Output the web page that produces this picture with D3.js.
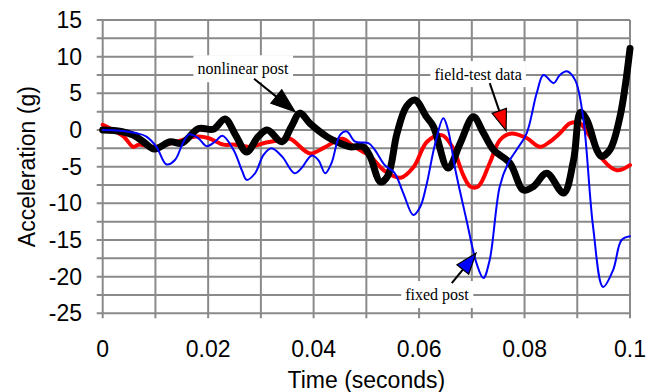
<!DOCTYPE html>
<html>
<head>
<meta charset="utf-8">
<script src="https://cdn.jsdelivr.net/npm/d3@7/dist/d3.min.js"></script>
<style>
  html, body { margin: 0; padding: 0; background: #fff; }
  svg { display: block; }
  .tick-label, .axis-title { font-family: "Liberation Sans", Arial, sans-serif; font-size: 23px; fill: #000; }
  .note { font-family: "Liberation Serif", "Times New Roman", serif; font-size: 16px; fill: #000; }
</style>
</head>
<body>
<div id="chart"></div>
<script>
// time in seconds, acceleration in g
const fieldTestT = [0, 0.002, 0.004, 0.0058, 0.0068, 0.0085, 0.0102, 0.014, 0.0178, 0.020, 0.0229, 0.025, 0.028, 0.0305, 0.0336, 0.0355, 0.0393, 0.042, 0.0455, 0.0475, 0.0507, 0.0535, 0.0565, 0.059, 0.0615, 0.0643, 0.0663, 0.0684, 0.0697, 0.0712, 0.0734, 0.0753, 0.0773, 0.0804, 0.0829, 0.0848, 0.0867, 0.0886, 0.0905, 0.0924, 0.0949, 0.0975, 0.1];
const fieldTestG = [0.7, 0, -0.9, -2.3, -2.0, -2.2, -2.3, -1.6, -0.9, -1.1, -2.0, -2.0, -2.3, -1.8, -1.4, -1.2, -3.2, -2.4, -1.2, -2.2, -3.6, -5.6, -6.5, -5.0, -1.6, -0.7, -2.3, -6.2, -7.7, -7.7, -4.5, -1.4, -0.5, -1.1, -2.3, -1.6, -0.45, 0.9, 0.9, -0.9, -4.1, -5.5, -4.8];

const nonlinearT = [0, 0.0035, 0.0058, 0.0077, 0.0098, 0.0128, 0.015, 0.0182, 0.021, 0.0232, 0.0252, 0.0273, 0.0295, 0.0312, 0.034, 0.0358, 0.0374, 0.0393, 0.0425, 0.045, 0.0469, 0.0494, 0.0507, 0.0527, 0.0541, 0.0558, 0.0576, 0.0592, 0.0614, 0.0627, 0.0655, 0.0678, 0.0703, 0.0722, 0.0741, 0.0772, 0.0798, 0.0817, 0.0842, 0.0874, 0.0893, 0.0906, 0.0918, 0.0937, 0.0946, 0.0962, 0.0981, 0.1];
const nonlinearG = [0, -0.2, -0.7, -1.6, -2.6, -1.6, -1.8, 0.2, 0.1, 1.5, -0.7, -3.0, -0.9, 0, -1.6, 0.5, 2.3, 0.9, -0.9, -1.8, -2.3, -2.3, -3.6, -7.1, -6.2, -0.5, 3.2, 4.1, 1.8, 0.5, -5.2, -1.8, 1.8, -0.4, -2.7, -4.5, -8.2, -7.7, -5.9, -8.6, -4.1, 2.4, 1.4, -2.7, -3.6, -2.7, 1.8, 11.1];

const fixedT = [0, 0.0033, 0.0065, 0.0083, 0.0102, 0.0121, 0.0137, 0.0152, 0.0164, 0.0181, 0.0197, 0.0213, 0.0227, 0.0248, 0.0264, 0.0273, 0.0289, 0.0305, 0.032, 0.034, 0.0364, 0.0377, 0.0396, 0.0409, 0.0422, 0.0434, 0.045, 0.0463, 0.0479, 0.0504, 0.0516, 0.0535, 0.0553, 0.057, 0.0589, 0.0602, 0.0614, 0.063, 0.0646, 0.0655, 0.0669, 0.069, 0.0709, 0.0722, 0.0734, 0.0753, 0.0769, 0.0785, 0.0804, 0.0823, 0.0836, 0.0855, 0.0867, 0.088, 0.0896, 0.0911, 0.093, 0.0949, 0.0968, 0.0984, 0.1];
const fixedG = [0, -0.1, -0.45, -0.9, -2.3, -4.7, -4.1, -1.8, -0.6, -1.1, -2.2, -1.6, -0.8, -2.7, -5.5, -6.8, -5.9, -3.4, -2.5, -3.6, -5.9, -5.2, -3.5, -4.1, -5.9, -4.5, -0.7, -0.2, -1.6, -1.8, -2.7, -4.8, -5.8, -8.6, -11.6, -10.5, -7.5, -2, 1.6, 0, -5.5, -12.3, -18.2, -20.2, -17.7, -7.7, -4.5, -2.7, -0.45, 5, 7.5, 6.4, 7.5, 8, 6.8, 1.8, -13.2, -21.4, -19.1, -15, -14.5];

const xTicks = [0, 0.02, 0.04, 0.06, 0.08, 0.1];
const xTickLabels = ['0', '0.02', '0.04', '0.06', '0.08', '0.1'];
const xGrid = d3.range(0, 11).map(i => i / 100);
const yTicks = [15, 10, 5, 0, -5, -10, -15, -20, -25];
const yGrid = d3.range(0, 17).map(i => 15 - i * 2.5);

// annotation: label position, arrow start and arrow tip (data units)
const notes = [
    {text: 'nonlinear post', t: 0.0266, g: 7.6, from: [0.0287, 7.0], to: [0.03647, 2.5], fill: '#000', head: 24},
    {text: 'field-test data', t: 0.0712, g: 6.8, from: [0.0734, 6.4], to: [0.0765, -0.1], fill: '#ff0000', head: 21},
    {text: 'fixed post', t: 0.0634, g: -23.2, from: [0.0662, -20.9], to: [0.0708, -16.8], fill: '#0000ff', head: 21}
];

const width = 652, height = 392;
const x = d3.scaleLinear().domain([0, 0.1]).range([102.7, 630]);
const y = d3.scaleLinear().domain([-25, 15]).range([313.3, 20]);

const svg = d3.select('#chart').append('svg')
    .attr('width', width)
    .attr('height', height);

const gridColor = '#8a8a8a';

// grid
svg.append('g').selectAll('line')
    .data(yGrid)
    .enter().append('line')
    .attr('x1', x(0) - 6).attr('x2', x(0.1))
    .attr('y1', d => y(d)).attr('y2', d => y(d))
    .attr('stroke', gridColor).attr('stroke-width', 2);

svg.append('g').selectAll('line')
    .data(xGrid)
    .enter().append('line')
    .attr('x1', d => x(d)).attr('x2', d => x(d))
    .attr('y1', y(15)).attr('y2', y(-25) + 5)
    .attr('stroke', gridColor).attr('stroke-width', 2);

// tick labels
svg.append('g').selectAll('text')
    .data(yTicks)
    .enter().append('text')
    .attr('class', 'tick-label')
    .attr('x', 82)
    .attr('y', d => y(d) + 8)
    .attr('text-anchor', 'end')
    .text(d => d);

svg.append('g').selectAll('text')
    .data(xTicks)
    .enter().append('text')
    .attr('class', 'tick-label')
    .attr('x', d => x(d))
    .attr('y', 357)
    .attr('text-anchor', 'middle')
    .text((d, i) => xTickLabels[i]);

svg.append('text')
    .attr('class', 'axis-title')
    .attr('x', (x(0) + x(0.1)) / 2)
    .attr('y', 388)
    .attr('text-anchor', 'middle')
    .text('Time (seconds)');

svg.append('text')
    .attr('class', 'axis-title')
    .attr('transform', 'translate(35,' + (y(-25) + y(15)) / 2 + ') rotate(-90)')
    .attr('text-anchor', 'middle')
    .text('Acceleration (g)');

// label boxes sit on the grid
const noteG = svg.append('g');
notes.forEach(n => {
    const label = noteG.append('text')
        .attr('class', 'note')
        .attr('x', x(n.t))
        .attr('y', y(n.g))
        .attr('text-anchor', 'middle')
        .text(n.text);
    const b = label.node().getBBox();
    noteG.insert('rect', 'text')
        .attr('x', b.x - 4).attr('y', b.y - 5)
        .attr('width', b.width + 8).attr('height', b.height + 9)
        .attr('fill', '#fff');
});

// series
const line = d3.line()
    .x(d => x(d[0]))
    .y(d => y(d[1]))
    .curve(d3.curveCatmullRom.alpha(0.5));

const series = [
    {t: fieldTestT, g: fieldTestG, color: '#ff0000', w: 4},
    {t: nonlinearT, g: nonlinearG, color: '#000000', w: 7},
    {t: fixedT, g: fixedG, color: '#0000ff', w: 2}
];

svg.append('g').selectAll('path')
    .data(series)
    .enter().append('path')
    .attr('d', s => line(s.t.map((t, i) => [t, s.g[i]])))
    .attr('fill', 'none')
    .attr('stroke', s => s.color)
    .attr('stroke-width', s => s.w)
    .attr('stroke-linejoin', 'round')
    .attr('stroke-linecap', 'round');

// arrows
notes.forEach(n => {
    const x0 = x(n.from[0]), y0 = y(n.from[1]);
    const x1 = x(n.to[0]), y1 = y(n.to[1]);
    const len = Math.hypot(x1 - x0, y1 - y0);
    const ux = (x1 - x0) / len, uy = (y1 - y0) / len;
    const bx = x1 - ux * n.head, by = y1 - uy * n.head;
    const hw = n.head * 0.36;
    svg.append('line')
        .attr('x1', x0).attr('y1', y0)
        .attr('x2', bx).attr('y2', by)
        .attr('stroke', '#000').attr('stroke-width', 2);
    svg.append('path')
        .attr('d', 'M' + x1 + ',' + y1 +
            'L' + (bx - uy * hw) + ',' + (by + ux * hw) +
            'L' + (bx + uy * hw) + ',' + (by - ux * hw) + 'Z')
        .attr('fill', n.fill)
        .attr('stroke', '#000')
        .attr('stroke-width', 1.2)
        .attr('stroke-linejoin', 'miter');
});
</script>
</body>
</html>
